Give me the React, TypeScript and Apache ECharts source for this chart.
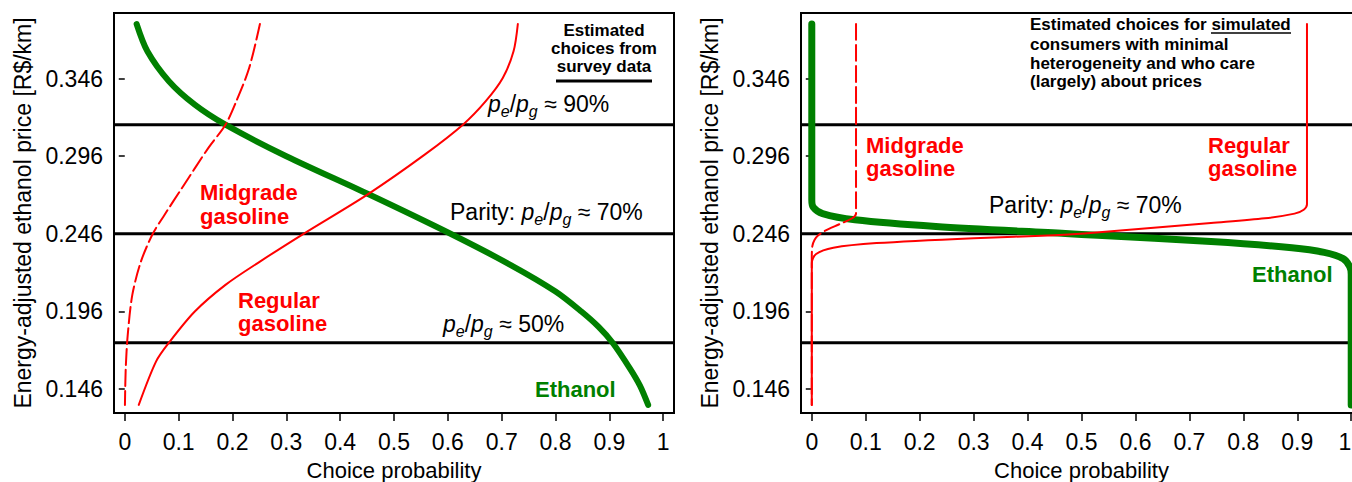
import React, { useEffect, useRef } from 'react';
import * as echarts from 'echarts';

// ---------- axes ----------
const xTicks = [0, 0.1, 0.2, 0.3, 0.4, 0.5, 0.6, 0.7, 0.8, 0.9, 1];
const yTicks = [0.146, 0.196, 0.246, 0.296, 0.346];
const ratioLines = [0.3163, 0.246, 0.1757]; // p_e/p_g ≈ 90%, 70% (parity), 50%

// ---------- left panel: survey data ----------
const surveyEthPrice = [0.3812, 0.3636, 0.3443, 0.3292, 0.3163, 0.296, 0.2716, 0.246, 0.226, 0.2088, 0.1959, 0.1860, 0.1758, 0.1593, 0.1480, 0.1357];
const surveyEthProb = [0.022, 0.042, 0.082, 0.130, 0.187, 0.300, 0.452, 0.605, 0.716, 0.800, 0.848, 0.880, 0.906, 0.938, 0.957, 0.972];

const surveyMidPrice = [0.3812, 0.3528, 0.3313, 0.3163, 0.3012, 0.2754, 0.2583, 0.246, 0.2281, 0.2066, 0.1808, 0.1593, 0.1357];
const surveyMidProb = [0.251, 0.231, 0.207, 0.187, 0.155, 0.106, 0.074, 0.052, 0.030, 0.0140, 0.0055, 0.0018, 0.0003];

const surveyRegPrice = [0.3812, 0.3636, 0.3464, 0.3313, 0.3163, 0.297, 0.2716, 0.246, 0.2281, 0.2131, 0.1959, 0.1758, 0.1636, 0.1357];
const surveyRegProb = [0.730, 0.722, 0.702, 0.670, 0.628, 0.557, 0.452, 0.332, 0.251, 0.187, 0.130, 0.082, 0.058, 0.026];

// ---------- right panel: simulated consumers ----------
const simEthPrice = [0.3812, 0.2680, 0.2630, 0.2590, 0.2550, 0.2507, 0.2462, 0.2450, 0.2410, 0.2370, 0.2340, 0.2300, 0.2250, 0.2200, 0.1357];
const simEthProb = [0.000, 0.000, 0.003, 0.020, 0.080, 0.230, 0.470, 0.530, 0.740, 0.890, 0.950, 0.985, 0.997, 1.000, 1.000];

const simRegPrice = [0.3812, 0.2650, 0.2615, 0.2590, 0.2560, 0.2530, 0.2462, 0.2450, 0.2432, 0.2400, 0.2370, 0.2330, 0.2270, 0.1357];
const simRegProb = [0.918, 0.918, 0.912, 0.895, 0.840, 0.740, 0.505, 0.450, 0.300, 0.120, 0.040, 0.008, 0.000, 0.000];

const simMidPrice = [0.3812, 0.2590, 0.2560, 0.2520, 0.2480, 0.2450, 0.2420, 0.2380, 0.2300, 0.1357];
const simMidProb = [0.082, 0.082, 0.075, 0.050, 0.025, 0.012, 0.005, 0.001, 0.000, 0.000];

const FONT = 'Liberation Sans, Arial, Helvetica, sans-serif';
const GREEN = '#008000';
const RED = '#ff0000';
const AX = 23;

const pts = (prob: number[], price: number[]) => price.map((p, i) => [prob[i], p]);

function makeAxes(gi: number) {
  const x = {
    gridIndex: gi,
    type: 'value',
    min: -0.02,
    max: 1.02,
    axisLine: { show: false },
    splitLine: { show: false },
    axisTick: { show: true, inside: false, length: 8, lineStyle: { color: '#000', width: 1.5 }, customValues: xTicks },
    axisLabel: {
      customValues: xTicks,
      formatter: (v: number) => String(Math.round(v * 10) / 10),
      fontSize: AX, color: '#000', margin: 17, fontFamily: FONT,
      ...(gi === 1 ? { alignMaxLabel: 'right' } : {}),
    },
    name: 'Choice probability',
    nameLocation: 'middle',
    nameGap: 46,
    nameTextStyle: { fontSize: 22, color: '#000', fontFamily: FONT, lineHeight: 22 },
  };
  const y = {
    gridIndex: gi,
    type: 'value',
    min: 0.1305,
    max: 0.3883,
    axisLine: { show: false },
    splitLine: { show: false },
    axisTick: { show: true, inside: false, length: 6, lineStyle: { color: '#000', width: 1.5 }, customValues: yTicks },
    axisLabel: {
      customValues: yTicks,
      formatter: (v: number) => v.toFixed(3),
      fontSize: AX, color: '#000', margin: 11, fontFamily: FONT,
    },
    name: 'Energy-adjusted ethanol price [R$/km]',
    nameLocation: 'middle',
    nameGap: 80,
    nameRotate: 90,
    nameTextStyle: { fontSize: AX, color: '#000', fontFamily: FONT },
  };
  return { x, y };
}

function lineSeries(gi: number, data: number[][], color: string, width: number, dashed = false, z = 3) {
  return {
    type: 'line',
    xAxisIndex: gi,
    yAxisIndex: gi,
    data,
    showSymbol: false,
    symbol: 'none',
    smooth: 0.3,
    silent: true,
    z,
    lineStyle: { color, width, type: dashed ? [16, 5] : 'solid', cap: 'round', join: 'round' },
  };
}

function hLines(gi: number) {
  return ratioLines.map((v) => ({
    type: 'line',
    xAxisIndex: gi,
    yAxisIndex: gi,
    data: [[-0.02, v], [1.02, v]],
    showSymbol: false,
    symbol: 'none',
    silent: true,
    z: 2,
    lineStyle: { color: '#000', width: 3 },
  }));
}

const ratioRich = {
  n: { fontSize: 23, fontFamily: FONT, color: '#000', verticalAlign: 'top', lineHeight: 24 },
  i: { fontSize: 23, fontFamily: FONT, fontStyle: 'italic', color: '#000', verticalAlign: 'top', lineHeight: 24 },
  s: { fontSize: 16, fontFamily: FONT, fontStyle: 'italic', color: '#000', verticalAlign: 'top', lineHeight: 17, padding: [11, 0, 0, 0] },
};

function ratioText(x: number, y: number, prefix: string, pct: string) {
  return {
    type: 'text',
    x, y,
    silent: true,
    style: {
      text: `${prefix ? `{n|${prefix}}` : ''}{i|p}{s|e}{n|/}{i|p}{s|g}{n| ≈ ${pct}}`,
      rich: ratioRich,
      font: `23px ${FONT}`,
      fill: '#000',
      textAlign: 'left',
      verticalAlign: 'middle',
    },
  };
}

function label(x: number, y: number, text: string, color: string, size: number, align = 'left', weight = 'bold') {
  return {
    type: 'text',
    x, y,
    silent: true,
    style: {
      text,
      font: `${weight} ${size}px ${FONT}`,
      fill: color,
      textAlign: align,
      verticalAlign: 'middle',
    },
  };
}

export default function App() {
  const ref = useRef<HTMLDivElement>(null);
  useEffect(() => {
    if (!ref.current) return;
    const chart = echarts.init(ref.current, null, { renderer: 'svg' });
    const a0 = makeAxes(0);
    const a1 = makeAxes(1);
    chart.setOption({
      animation: false,
      backgroundColor: '#fff',
      grid: [
        { left: 114, top: 13, width: 560, height: 400, show: true, borderColor: '#000', borderWidth: 2, backgroundColor: 'transparent', containLabel: false, outerBoundsMode: 'none' },
        { left: 801, top: 13, width: 561, height: 400, show: true, borderColor: '#000', borderWidth: 2, backgroundColor: 'transparent', containLabel: false, outerBoundsMode: 'none' },
      ],
      xAxis: [a0.x, a1.x],
      yAxis: [a0.y, a1.y],
      series: [
        ...hLines(0),
        ...hLines(1),
        lineSeries(0, pts(surveyEthProb, surveyEthPrice), GREEN, 6, false, 3),
        lineSeries(0, pts(surveyMidProb, surveyMidPrice), RED, 2, true, 4),
        lineSeries(0, pts(surveyRegProb, surveyRegPrice), RED, 2, false, 4),
        lineSeries(1, pts(simEthProb, simEthPrice), GREEN, 7, false, 3),
        lineSeries(1, pts(simMidProb, simMidPrice), RED, 2, true, 4),
        lineSeries(1, pts(simRegProb, simRegPrice), RED, 2, false, 4),
      ],
      graphic: [
        // left panel annotations
        label(604, 30, 'Estimated', '#000', 17, 'center'),
        label(604, 48, 'choices from', '#000', 17, 'center'),
        label(604, 66, 'survey data', '#000', 17, 'center'),
        { type: 'line', silent: true, shape: { x1: 556, y1: 81, x2: 652, y2: 81 }, style: { stroke: '#000', lineWidth: 3 } },
        ratioText(488, 104, '', '90%'),
        ratioText(450, 212, 'Parity: ', '70%'),
        ratioText(443, 324, '', '50%'),
        label(200, 192, 'Midgrade', RED, 22),
        label(200, 216, 'gasoline', RED, 22),
        label(238, 300, 'Regular', RED, 22),
        label(238, 323, 'gasoline', RED, 22),
        label(535, 389, 'Ethanol', GREEN, 22),
        // right panel annotations
        label(1030, 24, 'Estimated choices for simulated', '#000', 17),
        { type: 'line', silent: true, shape: { x1: 1211, y1: 33, x2: 1291, y2: 33 }, style: { stroke: '#000', lineWidth: 1.5 } },
        label(1030, 44, 'consumers with minimal', '#000', 17),
        label(1030, 63, 'heterogeneity and who care', '#000', 17),
        label(1030, 81, '(largely) about prices', '#000', 17),
        label(866, 145, 'Midgrade', RED, 22),
        label(866, 168, 'gasoline', RED, 22),
        label(1208, 145, 'Regular', RED, 22),
        label(1208, 168, 'gasoline', RED, 22),
        ratioText(989, 205, 'Parity: ', '70%'),
        label(1252, 274, 'Ethanol', GREEN, 22),
      ],
    });
    return () => chart.dispose();
  }, []);
  return <div ref={ref} style={{ position: 'absolute', left: 0, top: 0, width: 1352, height: 482 }} />;
}
